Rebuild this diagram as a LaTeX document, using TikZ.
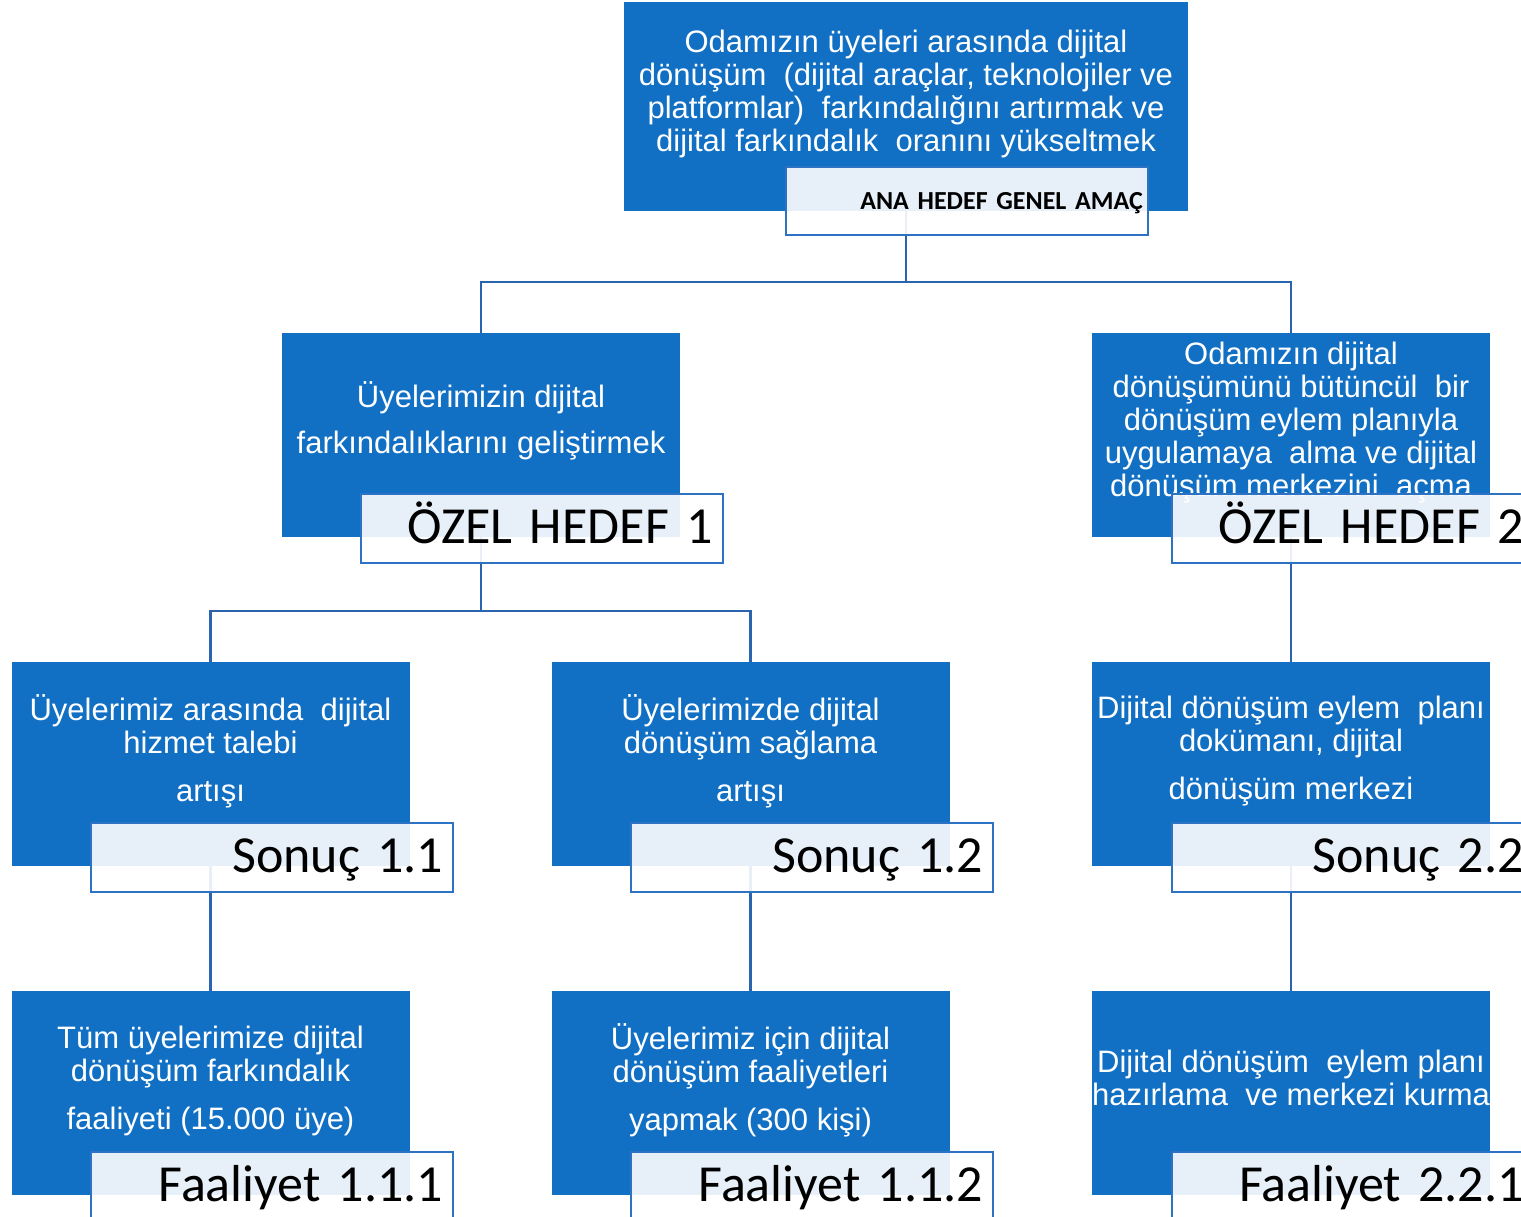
\documentclass[tikz,border=0pt]{standalone}
\usepackage{fontspec}
\setmainfont{Liberation Sans}
\newfontfamily\tagfont{Carlito}
\usepackage{tikz}
\usetikzlibrary{positioning}
\definecolor{boxblue}{HTML}{1170C4}
\definecolor{linkblue}{HTML}{2A64AE}
\definecolor{tagline}{HTML}{2E72C4}
\tikzset{goal/.style ={fill=boxblue, minimum width=398pt, minimum height=204pt, inner sep=0pt}}
\tikzset{goaltext/.style ={text=white, align=center, inner sep=0pt, font=\fontsize{31}{33}\selectfont}}
\tikzset{tag/.style ={draw=tagline, line width=2pt, fill=white, fill opacity=.9, text opacity=1,
  minimum width=362pt, minimum height=69pt, inner sep=0pt, text width=342pt, align=right,
  text height=30pt, text depth=0pt, font=\tagfont\fontsize{52}{60}\selectfont}}
\tikzset{link/.style ={draw=linkblue, line width=2.5pt}}

\begin{document}
\begin{tikzpicture}[x=1pt, y=-1pt]
\useasboundingbox (0,0) rectangle (1521,1217);
\clip (0,0) rectangle (1521,1217);
% boxes
\node[goal, minimum width=564pt, minimum height=209pt] (top) at (906,106.5) {};
\node[goal] (h1) at (481,435) {};
\node[goal] (h2) at (1291,435) {};
\node[goal] (s11) at (210.5,764) {};
\node[goal] (s12) at (750.5,764) {};
\node[goal] (s22) at (1291,764) {};
\node[goal] (f111) at (210.5,1093) {};
\node[goal] (f112) at (750.5,1093) {};
\node[goal] (f221) at (1291,1093) {};
% texts
\node[goaltext] (topt) at (906,94) {Odamızın üyeleri arasında dijital\\dönüşüm\ \ (dijital araçlar, teknolojiler ve\\platformlar)\ \ farkındalığını artırmak ve\\dijital farkındalık\ \ oranını yükseltmek};
\node[goaltext] (h1t) at (481,421) {Üyelerimizin dijital\\[13pt]farkındalıklarını\ geliştirmek};
\node[goaltext] (h2t) at (1291,422.5) {Odamızın dijital\\dönüşümünü bütüncül\ \ bir\\dönüşüm eylem planıyla\\uygulamaya\ \ alma ve dijital\\dönüşüm merkezini\ \ açma};
\node[goaltext] (s11t) at (210.5,751) {Üyelerimiz arasında\ \ dijital\\hizmet talebi\\[15pt]artışı};
\node[goaltext] (s12t) at (750.5,751) {Üyelerimizde dijital\\dönüşüm sağlama\\[15pt]artışı};
\node[goaltext] (s22t) at (1291,751.5) {Dijital dönüşüm eylem\ \ planı\\dokümanı, dijital\\[15pt]dönüşüm merkezi};
\node[goaltext] (f111t) at (210.5,1081) {Tüm üyelerimize dijital\\dönüşüm farkındalık\\[15pt]faaliyeti (15.000 üye)};
\node[goaltext] (f112t) at (750.5,1080.5) {Üyelerimiz için dijital\\dönüşüm faaliyetleri\\[15pt]yapmak (300 kişi)};
\node[goaltext] (f221t) at (1291,1078) {Dijital dönüşüm\ \ eylem planı\\hazırlama\ \ ve merkezi kurma};
% connectors
\draw[link] (top.south) -- ++(0,71) -| (h1.north);
\draw[link] (top.south) -- ++(0,71) -| (h2.north);
\draw[link] (h1.south) -- ++(0,74) -| (s11.north);
\draw[link] (h1.south) -- ++(0,74) -| (s12.north);
\draw[link] (h2.south) -- (s22.north);
\draw[link] (s11.south) -- (f111.north);
\draw[link] (s12.south) -- (f112.north);
\draw[link] (s22.south) -- (f221.north);
% tags
\node[tag, anchor=north west, minimum height=68pt, text height=16pt, text width=352pt,
  font=\tagfont\bfseries\fontsize{26}{30}\selectfont] (topl) at ([xshift=161pt, yshift=45pt]top.south west) {ANA HEDEF GENEL AMAÇ};
\node[tag, anchor=north west] (h1l) at ([xshift=78pt, yshift=44pt]h1.south west) {ÖZEL HEDEF 1};
\node[tag, anchor=north west] (h2l) at ([xshift=79pt, yshift=44pt]h2.south west) {ÖZEL HEDEF 2};
\node[tag, anchor=north west] (s11l) at ([xshift=79pt, yshift=44pt]s11.south west) {Sonuç 1.1};
\node[tag, anchor=north west] (s12l) at ([xshift=79pt, yshift=44pt]s12.south west) {Sonuç 1.2};
\node[tag, anchor=north west] (s22l) at ([xshift=79pt, yshift=44pt]s22.south west) {Sonuç 2.2};
\node[tag, anchor=north west] (f111l) at ([xshift=79pt, yshift=44pt]f111.south west) {Faaliyet 1.1.1};
\node[tag, anchor=north west] (f112l) at ([xshift=79pt, yshift=44pt]f112.south west) {Faaliyet 1.1.2};
\node[tag, anchor=north west] (f221l) at ([xshift=79pt, yshift=44pt]f221.south west) {Faaliyet 2.2.1};
\end{tikzpicture}
\end{document}
